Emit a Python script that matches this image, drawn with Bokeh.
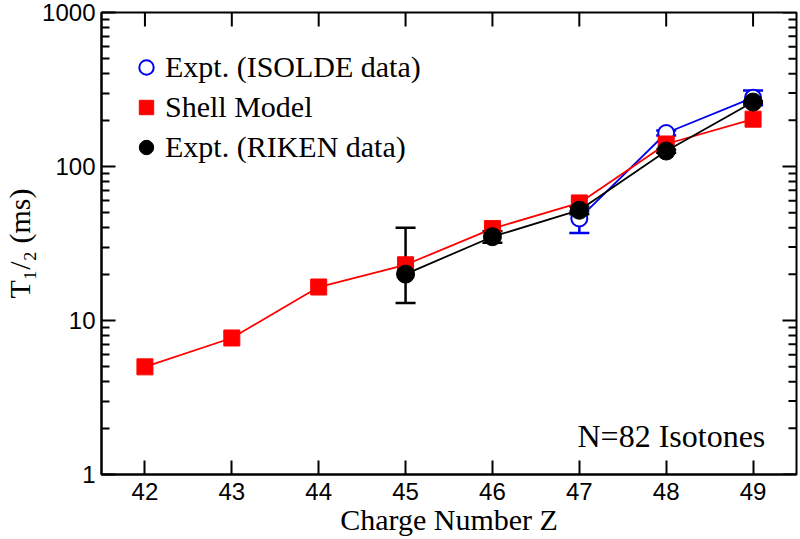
import math
from bokeh.plotting import figure
from bokeh.models import (Range1d, FixedTicker, Whisker, TeeHead, ColumnDataSource,
                          Legend, LegendItem, Label, PrintfTickFormatter)
from bokeh.embed import file_html
from bokeh.resources import INLINE

# N=82 isotones: half-lives in ms versus proton number Z
z_shell = [42, 43, 44, 45, 46, 47, 48, 49]
t_shell = [5.0, 7.7, 16.5, 23.0, 39.5, 58.0, 140.0, 203.0]

z_riken = [45, 46, 47, 48, 49]
t_riken = [20.0, 35.0, 52.0, 126.0, 262.0]
t_riken_lo = [13.0, 32.0, 49.0, 123.0, 258.0]
t_riken_hi = [40.0, 38.0, 55.0, 129.0, 266.0]

z_isolde = [47, 48, 49]
t_isolde = [46.0, 165.0, 280.0]
t_isolde_lo = [37.0, 159.0, 250.0]
t_isolde_hi = [51.0, 171.0, 312.0]

x_ticks = [42, 43, 44, 45, 46, 47, 48, 49]
y_major = [1, 10, 100, 1000]
y_minor = [m * d for d in (1, 10, 100) for m in range(2, 10)]

X_LO, X_HI = 41.5, 49.5
Y_LO, Y_HI = 1, 1000

RED = "#ff0000"
BLUE = "#0000ee"
BLACK = "#000000"
SERIF = "Liberation Serif"
SANS = "Liberation Sans"

p = figure(width=800, height=539, output_backend="svg", toolbar_location=None,
           y_axis_type="log", x_range=Range1d(X_LO, X_HI), y_range=Range1d(Y_LO, Y_HI),
           min_border_left=99, min_border_right=4, min_border_top=12, min_border_bottom=65)
p.grid.visible = False
p.outline_line_color = "black"
p.outline_line_width = 2
p.background_fill_color = "white"
p.border_fill_color = "white"

xticker = FixedTicker(ticks=x_ticks, minor_ticks=[])
yticker = FixedTicker(ticks=y_major, minor_ticks=y_minor)

MAJOR_LEN = 14
MINOR_LEN = 8


def style_axis(ax):
    ax.axis_line_width = 2
    ax.axis_line_color = "black"
    ax.major_tick_in = MAJOR_LEN
    ax.major_tick_out = 0
    ax.minor_tick_in = MINOR_LEN
    ax.minor_tick_out = 0
    ax.major_tick_line_width = 2
    ax.minor_tick_line_width = 2
    ax.major_tick_line_color = "black"
    ax.minor_tick_line_color = "black"
    ax.major_label_text_font = SANS
    ax.major_label_text_font_size = "24px"
    ax.major_label_text_color = "black"
    ax.axis_label_text_font = SERIF
    ax.axis_label_text_font_size = "30px"
    ax.axis_label_text_font_style = "normal"
    ax.axis_label_text_color = "black"


xa = p.xaxis[0]
xa.ticker = xticker
style_axis(xa)
xa.major_label_standoff = 8
xa.axis_label = "Charge Number Z"
xa.axis_label_standoff = 0

ya = p.yaxis[0]
ya.ticker = yticker
ya.formatter = PrintfTickFormatter(format="%d")
style_axis(ya)
ya.major_label_standoff = 6
ya.axis_label = "T\u2081/\u2082 (ms)"
ya.axis_label_standoff = 3

# mirrored inward ticks on the top and right edges of the frame
p.ray(x=x_ticks, y=[Y_HI] * len(x_ticks), length=MAJOR_LEN, length_units="screen",
      angle=-math.pi / 2, line_color="black", line_width=2)
p.ray(x=[X_HI] * len(y_major), y=y_major, length=MAJOR_LEN, length_units="screen",
      angle=math.pi, line_color="black", line_width=2)
p.ray(x=[X_HI] * len(y_minor), y=y_minor, length=MINOR_LEN, length_units="screen",
      angle=math.pi, line_color="black", line_width=2)

# ISOLDE measurements
src_iso = ColumnDataSource(dict(z=z_isolde, t=t_isolde, lo=t_isolde_lo, hi=t_isolde_hi))
p.line("z", "t", source=src_iso, line_color=BLUE, line_width=1.8)
p.add_layout(Whisker(source=src_iso, base="z", lower="lo", upper="hi", dimension="height",
                     line_color=BLUE, line_width=2.5,
                     lower_head=TeeHead(size=20, line_color=BLUE, line_width=2.5),
                     upper_head=TeeHead(size=20, line_color=BLUE, line_width=2.5)))
r_iso = p.scatter("z", "t", source=src_iso, marker="circle", size=16,
                  fill_color="white", line_color=BLUE, line_width=2)

# shell-model calculation
src_sm = ColumnDataSource(dict(z=z_shell, t=t_shell))
p.line("z", "t", source=src_sm, line_color=RED, line_width=1.8)
r_sm = p.scatter("z", "t", source=src_sm, marker="square", size=16,
                 fill_color=RED, line_color=RED)

# RIKEN measurements
src_rk = ColumnDataSource(dict(z=z_riken, t=t_riken, lo=t_riken_lo, hi=t_riken_hi))
p.line("z", "t", source=src_rk, line_color=BLACK, line_width=1.8)
p.add_layout(Whisker(source=src_rk, base="z", lower="lo", upper="hi", dimension="height",
                     line_color=BLACK, line_width=2.5,
                     lower_head=TeeHead(size=20, line_color=BLACK, line_width=2.5),
                     upper_head=TeeHead(size=20, line_color=BLACK, line_width=2.5)))
r_rk = p.scatter("z", "t", source=src_rk, marker="circle", size=18,
                 fill_color=BLACK, line_color=BLACK)

legend = Legend(items=[LegendItem(label="Expt. (ISOLDE data)", renderers=[r_iso]),
                       LegendItem(label="Shell Model", renderers=[r_sm]),
                       LegendItem(label="Expt. (RIKEN data)", renderers=[r_rk])],
                location=(27, 309), orientation="vertical",
                glyph_width=36, glyph_height=36, label_height=36, spacing=4,
                padding=0, margin=0, label_standoff=1,
                border_line_color=None, background_fill_alpha=0,
                label_text_font=SERIF, label_text_font_size="30px",
                label_text_baseline="middle", label_text_color="black")
p.add_layout(legend)

p.add_layout(Label(x=577, y=435, x_units="canvas", y_units="canvas", text="N=82 Isotones",
                   text_font=SERIF, text_font_size="32px", text_color="black",
                   text_align="left", text_baseline="alphabetic"))

open("out.html", "w").write(file_html(p, INLINE))
